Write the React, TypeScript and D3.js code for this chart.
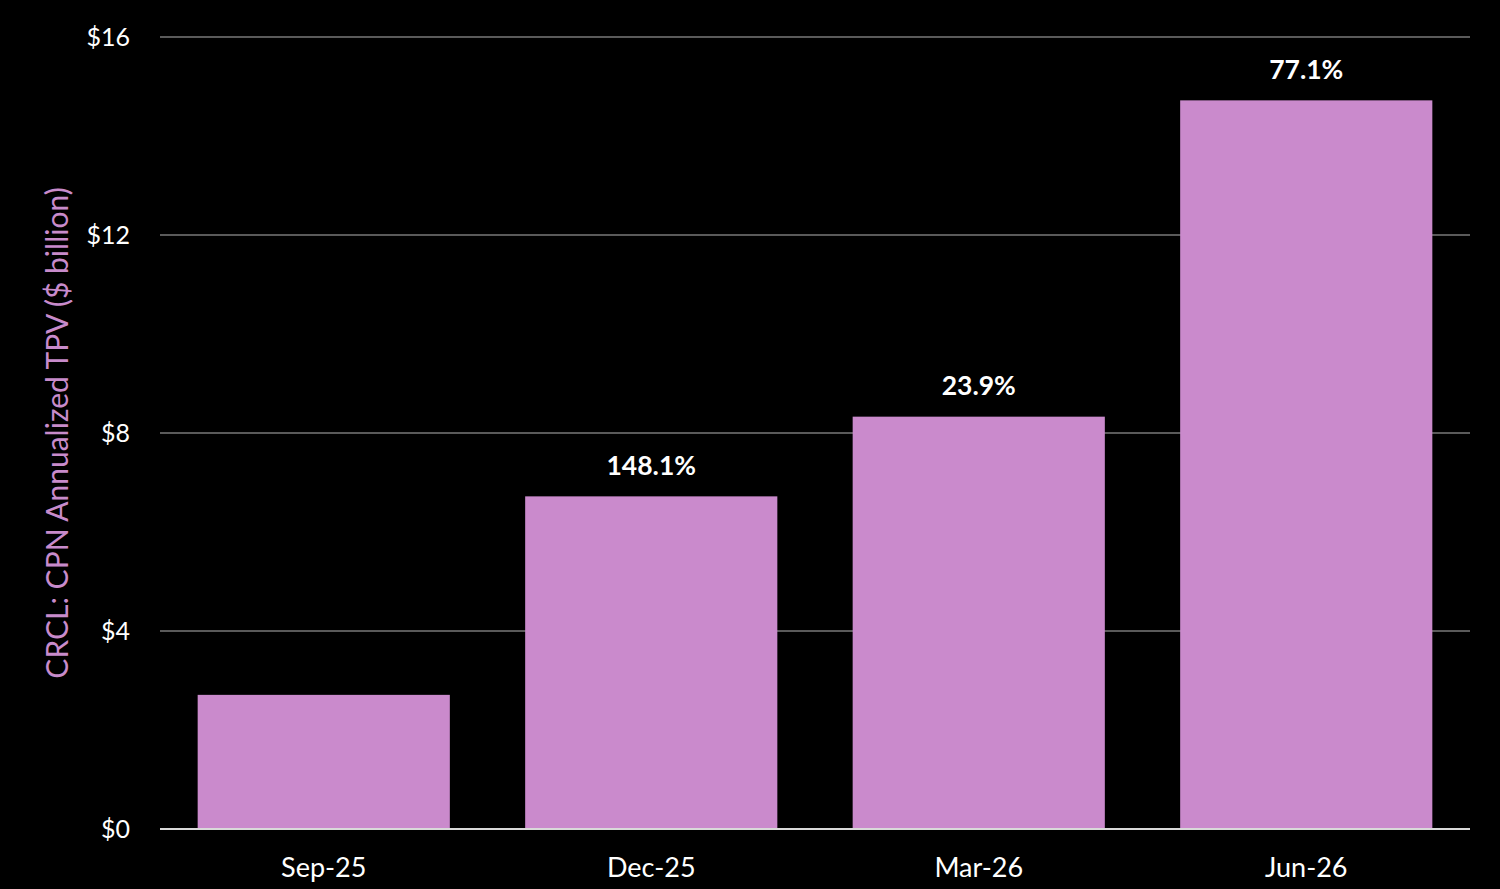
import React, { useEffect, useRef } from "react";
import * as d3 from "d3";

const categories = ["Sep-25", "Dec-25", "Mar-26", "Jun-26"];
const tpv = [2.71, 6.72, 8.33, 14.72];
const growthLabels = ["", "148.1%", "23.9%", "77.1%"];
const yTicks = [0, 4, 8, 12, 16];

const W = 1500;
const H = 889;

const App: React.FC = () => {
  const ref = useRef<SVGSVGElement>(null);

  useEffect(() => {
    const svg = d3.select(ref.current);
    svg.selectAll("*").remove();

    const margin = { top: 37, right: 30, bottom: 60, left: 160 };
    const font = "Lato, 'Open Sans', sans-serif";

    svg.append("rect").attr("width", W).attr("height", H).attr("fill", "#000");

    // scales
    const x = d3
      .scaleBand()
      .domain(categories)
      .range([margin.left, W - margin.right])
      .paddingInner(0.23)
      .paddingOuter(0.115);

    const y = d3
      .scaleLinear()
      .domain([0, 16])
      .range([H - margin.bottom, margin.top]);

    // gridlines
    svg
      .append("g")
      .selectAll("line")
      .data(yTicks.filter((t) => t > 0))
      .enter()
      .append("line")
      .attr("x1", margin.left)
      .attr("x2", W - margin.right)
      .attr("y1", (d) => y(d))
      .attr("y2", (d) => y(d))
      .attr("stroke", "#5a5a5a")
      .attr("stroke-width", 2);

    // y tick labels
    svg
      .append("g")
      .selectAll("text")
      .data(yTicks)
      .enter()
      .append("text")
      .attr("x", 130)
      .attr("y", (d) => y(d))
      .attr("dy", "0.35em")
      .attr("text-anchor", "end")
      .attr("fill", "#fff")
      .attr("font-family", font)
      .attr("font-size", 25)
      .text((d) => `$${d}`);

    // bars
    svg
      .append("g")
      .selectAll("rect")
      .data(tpv)
      .enter()
      .append("rect")
      .attr("x", (_, i) => x(categories[i])!)
      .attr("y", (d) => y(d))
      .attr("width", x.bandwidth())
      .attr("height", (d) => y(0) - y(d))
      .attr("fill", "#ca8acc");

    // baseline
    svg
      .append("line")
      .attr("x1", margin.left)
      .attr("x2", W - margin.right)
      .attr("y1", y(0))
      .attr("y2", y(0))
      .attr("stroke", "#d9d9d9")
      .attr("stroke-width", 2);

    // growth labels
    svg
      .append("g")
      .selectAll("text")
      .data(tpv)
      .enter()
      .append("text")
      .attr("x", (_, i) => x(categories[i])! + x.bandwidth() / 2)
      .attr("y", (d) => y(d) - 31)
      .attr("dy", "0.35em")
      .attr("text-anchor", "middle")
      .attr("fill", "#fff")
      .attr("font-family", font)
      .attr("font-weight", "bold")
      .attr("font-size", 26.5)
      .text((_, i) => growthLabels[i]);

    // x labels
    svg
      .append("g")
      .selectAll("text")
      .data(categories)
      .enter()
      .append("text")
      .attr("x", (d) => x(d)! + x.bandwidth() / 2)
      .attr("y", y(0) + 39)
      .attr("dy", "0.35em")
      .attr("text-anchor", "middle")
      .attr("fill", "#fff")
      .attr("font-family", font)
      .attr("font-size", 27)
      .text((d) => d);

    // y axis title
    svg
      .append("text")
      .attr("transform", `translate(57,${y(8)}) rotate(-90)`)
      .attr("dy", "0.35em")
      .attr("text-anchor", "middle")
      .attr("fill", "#c88bcb")
      .attr("font-family", font)
      .attr("font-size", 30)
      .text("CRCL: CPN Annualized TPV ($ billion)");
  }, []);

  return (
    <svg
      ref={ref}
      width={W}
      height={H}
      style={{ position: "absolute", left: 0, top: 0, display: "block" }}
    />
  );
};

export default App;
